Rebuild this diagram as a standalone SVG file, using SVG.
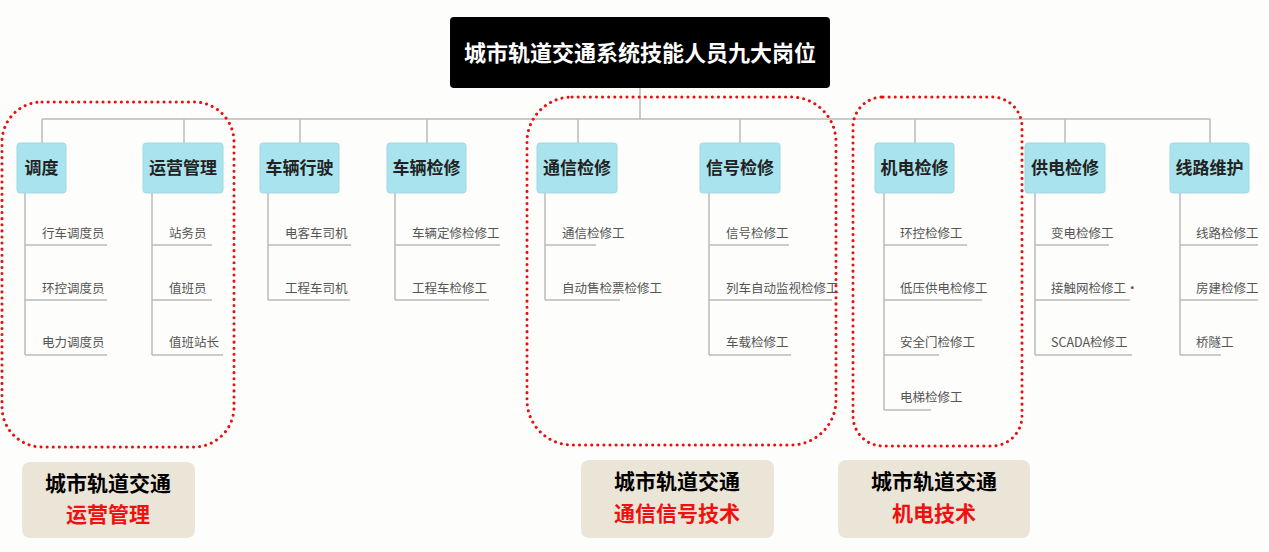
<svg xmlns="http://www.w3.org/2000/svg" width="1269" height="552" viewBox="0 0 1269 552">
<style>
text{font-family:"Noto Sans CJK SC","Liberation Sans",sans-serif}
.n rect{fill:#a9e4ee;stroke:#9fd8e2;stroke-width:1}
.n text{font-size:17px;font-weight:bold;fill:#222;text-anchor:middle}
.it{font-size:12.5px;fill:#555}
.ln{stroke:#bbb;stroke-width:1.5;fill:none}
.grp{fill:none;stroke:#e81010;stroke-width:3;stroke-dasharray:0.1 6;stroke-linecap:round}
.lb rect{fill:#ebe5d8}
.lb text{font-size:21px;font-weight:bold;text-anchor:middle}
</style>
<rect width="1269" height="552" fill="#fdfdfb"/>
<g id="title"><rect x="450" y="17" width="380" height="71" rx="4" fill="#000"/><text x="640" y="61" font-size="22" font-weight="bold" fill="#fff" text-anchor="middle">城市轨道交通系统技能人员九大岗位</text></g>
<g id="connectors" class="ln">
<path d="M640 88V119M42 119H1210M42 119V143M184 119V143M300 119V143M427 119V143M578 119V143M740 119V143M915 119V143M1065 119V143M1210 119V143"/>
<path d="M25 193V355M25 245H107M25 300H107M25 355H107"/>
<path d="M152 193V355M152 245H212M152 300H212M152 355H223"/>
<path d="M268 193V300M268 245H351M268 300H350"/>
<path d="M395 193V300M395 245H500M395 300H489"/>
<path d="M545 193V300M545 245H596M545 300H620"/>
<path d="M709 193V355M709 245H789M709 300H832M709 355H791"/>
<path d="M884 193V410M884 245H967M884 300H982M884 355H939M884 410H931"/>
<path d="M1035 193V355M1035 245H1109M1035 300H1130M1035 355H1132"/>
<path d="M1180 193V355M1180 245H1258M1180 300H1258M1180 355H1221"/>
</g>
<g id="n1" class="n"><rect x="17" y="143" width="49" height="50" rx="3"/><text x="41.5" y="174">调度</text></g>
<g id="n2" class="n"><rect x="143" y="143" width="80" height="50" rx="3"/><text x="183" y="174">运营管理</text></g>
<g id="n3" class="n"><rect x="260" y="143" width="79" height="50" rx="3"/><text x="299.5" y="174">车辆行驶</text></g>
<g id="n4" class="n"><rect x="387" y="143" width="79" height="50" rx="3"/><text x="426.5" y="174">车辆检修</text></g>
<g id="n5" class="n"><rect x="537" y="143" width="80" height="50" rx="3"/><text x="577" y="174">通信检修</text></g>
<g id="n6" class="n"><rect x="700" y="143" width="80" height="50" rx="3"/><text x="740" y="174">信号检修</text></g>
<g id="n7" class="n"><rect x="875" y="143" width="79" height="50" rx="3"/><text x="914.5" y="174">机电检修</text></g>
<g id="n8" class="n"><rect x="1025" y="143" width="80" height="50" rx="3"/><text x="1065" y="174">供电检修</text></g>
<g id="n9" class="n"><rect x="1170" y="143" width="79" height="50" rx="3"/><text x="1209.5" y="174">线路维护</text></g>
<g id="items" class="it">
<text x="42" y="238">行车调度员</text><text x="42" y="293">环控调度员</text><text x="42" y="347">电力调度员</text>
<text x="169" y="238">站务员</text><text x="169" y="293">值班员</text><text x="169" y="347">值班站长</text>
<text x="285" y="238">电客车司机</text><text x="285" y="293">工程车司机</text>
<text x="412" y="238">车辆定修检修工</text><text x="412" y="293">工程车检修工</text>
<text x="562" y="238">通信检修工</text><text x="562" y="293">自动售检票检修工</text>
<text x="726" y="238">信号检修工</text><text x="726" y="293">列车自动监视检修工</text><text x="726" y="347">车载检修工</text>
<text x="900" y="238">环控检修工</text><text x="900" y="293">低压供电检修工</text><text x="900" y="347">安全门检修工</text><text x="900" y="402">电梯检修工</text>
<text x="1051" y="238">变电检修工</text><text x="1051" y="293">接触网检修工·</text><text x="1051" y="347">SCADA检修工</text>
<text x="1196" y="238">线路检修工</text><text x="1196" y="293">房建检修工</text><text x="1196" y="347">桥隧工</text>
</g>
<g id="groups">
<rect class="grp" x="2" y="102" width="232" height="345" rx="40"/>
<rect class="grp" x="527" y="97" width="309" height="348" rx="45"/>
<rect class="grp" x="853" y="97" width="169" height="349" rx="30"/>
</g>
<g id="l1" class="lb"><rect x="22" y="462" width="173" height="76" rx="8"/><text x="108" y="491">城市轨道交通</text><text x="108" y="522" fill="#f01010">运营管理</text></g>
<g id="l2" class="lb"><rect x="581" y="460" width="193" height="78" rx="8"/><text x="677" y="489">城市轨道交通</text><text x="677" y="521" fill="#f01010">通信信号技术</text></g>
<g id="l3" class="lb"><rect x="838" y="460" width="192" height="78" rx="8"/><text x="934" y="489">城市轨道交通</text><text x="934" y="521" fill="#f01010">机电技术</text></g>
</svg>
